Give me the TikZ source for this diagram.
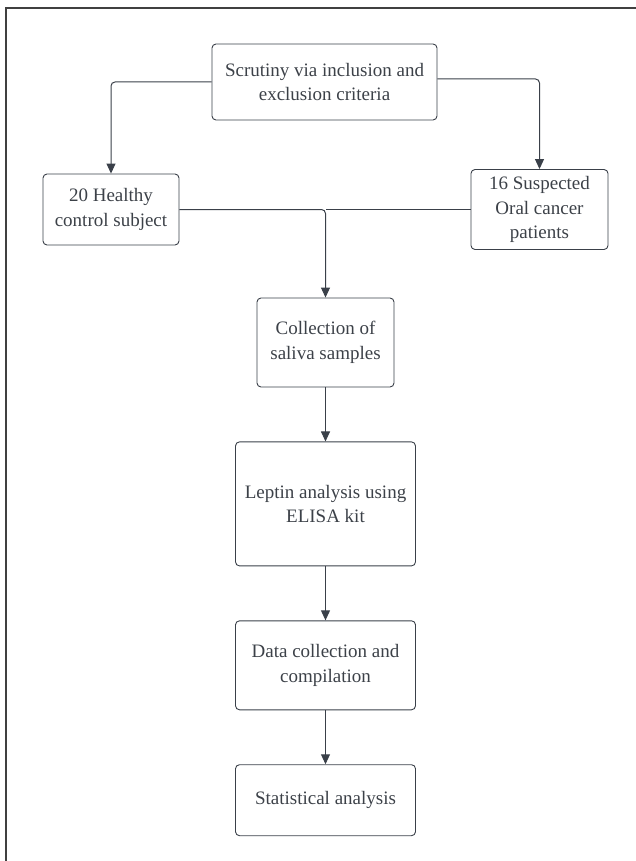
\documentclass[tikz,border=0pt]{standalone}
\usepackage{fontspec}
\setmainfont{Liberation Serif}
\usepackage{xcolor}
\usepackage{tikz}
\usetikzlibrary{positioning,arrows.meta,calc}

\definecolor{ink}{HTML}{3C4148}
\definecolor{wire}{HTML}{3A4049}

\begin{document}
\begin{tikzpicture}[
  x=1pt, y=-1pt,
  node distance=54pt,
  box/.style={draw=wire, line width=0.9pt, rounded corners=4pt, align=center, inner sep=0pt, text=ink,
    font=\fontsize{19}{24.5}\selectfont},
  arr/.style={-{Triangle[length=10pt,width=9pt]}, draw=wire, line width=1pt, rounded corners=4pt},
  wire/.style={draw=wire, line width=1pt}]
  \useasboundingbox (0,0) rectangle (636,861);
  \draw[line width=1.6pt, draw=black!75] (636,8) -- (6,8) -- (6,861);
  \node[box, minimum width=225pt, minimum height=76pt] (scr) at (324.5,82) {Scrutiny via inclusion and\\exclusion criteria};
  \node[box, minimum width=136pt, minimum height=71pt] (healthy) at (111,209.5) {20 Healthy\\control subject};
  \node[box, minimum width=137pt, minimum height=80pt] (susp) at (539.5,209.5) {16 Suspected\\Oral cancer\\patients};
  \node[box, minimum width=137pt, minimum height=89pt] (coll) at (325.5,342.5) {Collection of\\saliva samples};
  \node[box, below=of coll, minimum width=180pt, minimum height=124pt] (leptin) {Leptin analysis using\\ELISA kit};
  \node[box, below=of leptin, minimum width=180pt, minimum height=89pt] (data) {Data collection and\\compilation};
  \node[box, below=of data, minimum width=180pt, minimum height=71pt] (stats) {Statistical analysis};
  \draw[arr] (scr.west) -| (healthy.north);
  \draw[arr] ([yshift=3pt]scr.east) -| (susp.north);
  \draw[arr] (healthy.east) -| (coll.north);
  \draw[wire] (susp.west) -- (susp.west -| coll.north);
  \draw[arr] (coll) -- (leptin);
  \draw[arr] (leptin) -- (data);
  \draw[arr] (data) -- (stats);
\end{tikzpicture}
\end{document}
